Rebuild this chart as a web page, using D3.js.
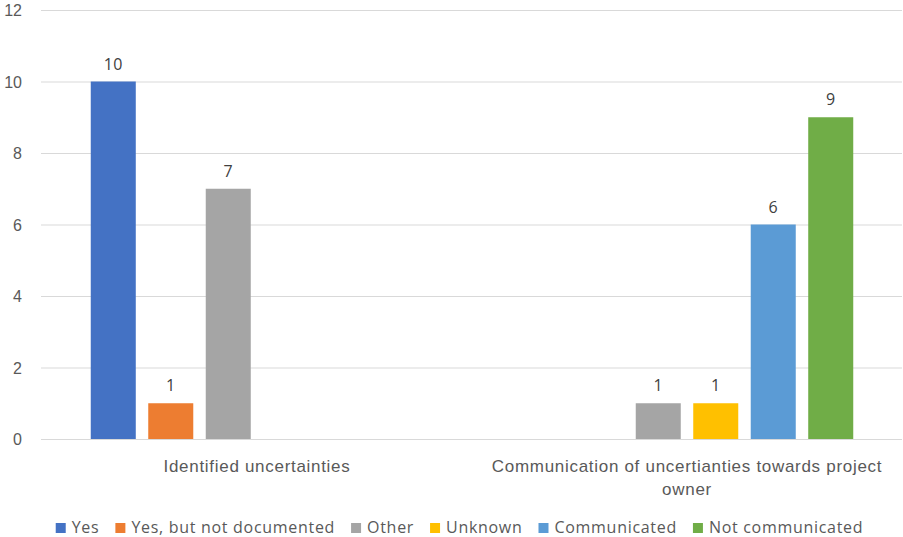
<!DOCTYPE html>
<html>
<head>
<meta charset="utf-8">
<script src="https://cdn.jsdelivr.net/npm/d3@7"></script>
<style>
  html, body { margin: 0; padding: 0; background: #fff; }
  svg { display: block; font-family: "Open Sans", "Noto Sans", sans-serif; }
</style>
</head>
<body>
<svg id="chart" width="903" height="537"></svg>
<script>
// Survey answers per topic
const categories = ["Identified uncertainties", "Communication of uncertianties towards project owner"];
const seriesNames = ["Yes", "Yes, but not documented", "Other", "Unknown", "Communicated", "Not communicated"];
const seriesColors = ["#4472C4", "#ED7D31", "#A5A5A5", "#FFC000", "#5B9BD5", "#70AD47"];
// one value list per series, in category order (null = no answer in that topic)
const yesValues = [10, null];
const yesNotDocumentedValues = [1, null];
const otherValues = [7, 1];
const unknownValues = [null, 1];
const communicatedValues = [null, 6];
const notCommunicatedValues = [null, 9];
const yTicks = [0, 2, 4, 6, 8, 10, 12];

const seriesValues = [yesValues, yesNotDocumentedValues, otherValues, unknownValues, communicatedValues, notCommunicatedValues];

const svg = d3.select("#chart");
const margin = { top: 10, right: 1, bottom: 98, left: 42 };
const W = 903, H = 537;
const plotW = W - margin.left - margin.right;
const plotH = H - margin.top - margin.bottom;
const g = svg.append("g").attr("transform", `translate(${margin.left},${margin.top})`);

const x0 = d3.scaleBand().domain(categories).range([0, plotW]).padding(0);
const x1 = d3.scaleBand().domain(seriesNames).range([0, x0.bandwidth()])
  .paddingInner(0.217).paddingOuter(0.848);
const y = d3.scaleLinear().domain([0, 12]).range([plotH, 0]);
const color = d3.scaleOrdinal().domain(seriesNames).range(seriesColors);

// horizontal gridlines
const yAxis = d3.axisLeft(y).tickValues(yTicks).tickSize(-plotW).tickPadding(20);
const ya = g.append("g").call(yAxis);
ya.select(".domain").remove();
ya.selectAll(".tick line").attr("stroke", "#d9d9d9").attr("stroke-width", 1).attr("x1", -1);
ya.selectAll(".tick text").attr("fill", "#595959").attr("font-size", 16)
  .attr("x", -20).attr("text-anchor", "end").attr("dy", "0.35em");

// category axis labels (wrapped)
const xa = g.append("g").attr("transform", `translate(0,${plotH})`)
  .call(d3.axisBottom(x0).tickSize(0).tickPadding(0));
xa.select(".domain").remove();
xa.selectAll(".tick text").attr("fill", "#595959").attr("font-size", 17)
  .attr("letter-spacing", 0.7)
  .attr("y", 33).attr("dy", 0)
  .each(function (d) { wrap(d3.select(this), x0.bandwidth() - 25); });

function wrap(text, width) {
  const words = text.text().split(/\s+/);
  text.text(null);
  let line = [];
  let tspan = text.append("tspan").attr("x", 0).attr("dy", 0);
  for (const w of words) {
    line.push(w);
    tspan.text(line.join(" "));
    if (tspan.node().getComputedTextLength() > width && line.length > 1) {
      line.pop();
      tspan.text(line.join(" "));
      line = [w];
      tspan = text.append("tspan").attr("x", 0).attr("dy", 23).text(w);
    }
  }
}

// bars
const rows = categories.map((c, i) => ({
  category: c,
  values: seriesNames.map((s, j) => ({ series: s, value: seriesValues[j][i] }))
    .filter(d => d.value != null)
}));

const grp = g.selectAll(".cat").data(rows).join("g")
  .attr("class", "cat")
  .attr("transform", d => `translate(${x0(d.category)},0)`);

grp.selectAll("rect").data(d => d.values).join("rect")
  .attr("x", d => x1(d.series))
  .attr("width", x1.bandwidth())
  .attr("y", d => y(d.value))
  .attr("height", d => y(0) - y(d.value))
  .attr("fill", d => color(d.series));

grp.selectAll("text.lbl").data(d => d.values).join("text")
  .attr("class", "lbl")
  .attr("x", d => x1(d.series) + x1.bandwidth() / 2)
  .attr("y", d => y(d.value) - 12)
  .attr("text-anchor", "middle")
  .attr("fill", "#404040")
  .attr("font-size", 16)
  .attr("letter-spacing", 0.4)
  .text(d => d.value);

// legend, centred under the plot
const legend = svg.append("g").attr("transform", "translate(0,533)");
const items = legend.selectAll("g").data(seriesNames).join("g");
items.append("rect").attr("x", 0).attr("y", -10).attr("width", 10).attr("height", 10)
  .attr("fill", d => color(d));
items.append("text").attr("x", 16).attr("y", 0).attr("fill", "#595959")
  .attr("font-size", 16).attr("letter-spacing", 0.7).text(d => d);
const widths = [];
items.each(function () {
  widths.push(16 + d3.select(this).select("text").node().getComputedTextLength());
});
const gap = 16;
const total = d3.sum(widths) + gap * (widths.length - 1);
let cursor = (W - total) / 2 + 8;
items.attr("transform", (d, i) => {
  const t = `translate(${cursor},0)`;
  cursor += widths[i] + gap;
  return t;
});
</script>
</body>
</html>
